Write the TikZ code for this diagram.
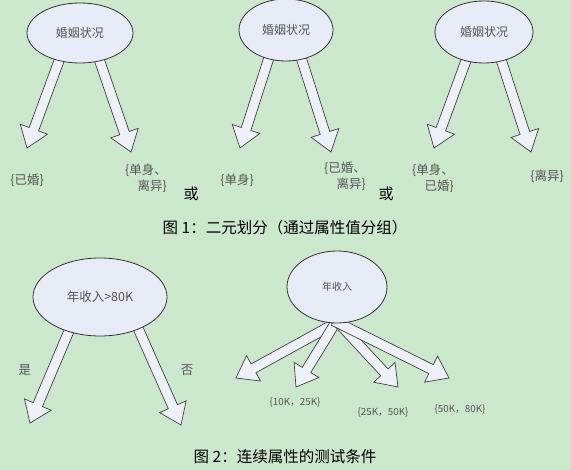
\documentclass[tikz,border=0pt]{standalone}
\usepackage{fontspec}
\setmainfont{Noto Sans CJK SC}
\usepackage{tikz}
\usepackage{xcolor}
\usetikzlibrary{calc, shapes.geometric, positioning}

\definecolor{bggreen}{RGB}{204,232,204}
\definecolor{attrfill}{RGB}{230,235,245}
\definecolor{arrowfill}{RGB}{238,240,248}
\definecolor{labelgray}{RGB}{85,85,85}

\pgfdeclarelayer{back}
\pgfdeclarelayer{mid}
\pgfsetlayers{back,mid,main}

\tikzset{
  attr/.style={ellipse, draw=black!80, line width=0.8pt, fill=attrfill,
    text=labelgray, inner sep=0pt},
  val/.style={text=labelgray, font=\fontsize{12.5}{16}\selectfont, align=center, inner sep=0pt},
  ival/.style={text=labelgray, font=\fontsize{9.8}{11}\selectfont, inner sep=0pt},
  orword/.style={font=\fontsize{15}{17}\selectfont, inner sep=0pt},
  caption/.style={font=\fontsize{15.5}{18}\selectfont, inner sep=0pt},
  fat/.style={draw=black!75, line width=0.7pt, fill=arrowfill, line join=miter}
}

% hollow block arrow from #1 to #2
\newcommand{\fatarrow}[2]{%
  \path ($(#1)!-6pt!(#2)$) coordinate (fa-s)
        ($(#2)!20pt!(#1)$) coordinate (fa-b);
  \filldraw[fat]
    ($(fa-s)!5pt!90:(#2)$) -- ($(fa-b)!5pt!90:(#2)$)
    -- ($(fa-b)!14.5pt!90:(#2)$) -- (#2)
    -- ($(fa-b)!14.5pt!-90:(#2)$) -- ($(fa-b)!5pt!-90:(#2)$)
    -- ($(fa-s)!5pt!-90:(#2)$) -- cycle;
}

\begin{document}
\begin{tikzpicture}[x=1pt, y=-1pt]
  \begin{pgfonlayer}{back}
    \fill[bggreen] (0,0) rectangle (571,470);
  \end{pgfonlayer}
  \useasboundingbox (0,0) rectangle (571,470);

  % binary splits
  \node[attr, minimum width=106pt, minimum height=60pt,
        font=\fontsize{12}{14}\selectfont] (m1) at (80,33) {婚姻状况};
  \node[attr, minimum width=94pt, minimum height=62pt,
        font=\fontsize{12}{14}\selectfont] (m2) at (286,30) {婚姻状况};
  \node[attr, minimum width=98pt, minimum height=62pt,
        font=\fontsize{12}{14}\selectfont] (m3) at (484,32) {婚姻状况};

  \coordinate (t11) at (27,148);
  \coordinate (t12) at (131,152);
  \coordinate (t21) at (240,148);
  \coordinate (t22) at (331,152);
  \coordinate (t31) at (434,148);
  \coordinate (t32) at (531,152);

  \node[val] (v11) at (27,180) {\{已婚\}};
  \node[val, align=right] (v12) at (146,178) {\{单身、\\离异\}};
  \node[orword] (or1) at (191,194) {或};
  \node[val] (v21) at (237,180) {\{单身\}};
  \node[val, align=right] (v22) at (345,176) {\{已婚、\\离异\}};
  \node[orword] (or2) at (386,194) {或};
  \node[val, align=right] (v31) at (433,178) {\{单身、\\已婚\}};
  \node[val] (v32) at (547,176) {\{离异\}};

  \node[caption] (cap1) at (285,228) {图 1：二元划分（通过属性值分组）};

  % continuous attribute
  \node[attr, minimum width=134pt, minimum height=78pt,
        font=\fontsize{12.5}{14}\selectfont] (inc1) at (100,297) {年收入>80K};
  \node[attr, minimum width=100pt, minimum height=72pt,
        font=\fontsize{10}{12}\selectfont] (inc2) at (337,287) {年收入};

  \coordinate (y1) at (30,423);
  \coordinate (n1) at (181,425);
  \coordinate (r1) at (236,378);
  \coordinate (r2) at (296,387);
  \coordinate (r3) at (398,387);
  \coordinate (r4) at (449,378);

  \node[val] (yes) at (25,370) {是};
  \node[val] (no) at (187,370) {否};
  \node[ival] (i1) at (295,402) {\{10K，25K\}};
  \node[ival] (i2) at (383,412) {\{25K，50K\}};
  \node[ival] (i3) at (460,409) {\{50K，80K\}};

  \node[caption] (cap2) at (285,457) {图 2：连续属性的测试条件};

  \begin{pgfonlayer}{mid}
    \fatarrow{m1.-127}{t11}
    \fatarrow{m1.-55}{t12}
    \fatarrow{m2.-121}{t21}
    \fatarrow{m2.-62}{t22}
    \fatarrow{m3.-122}{t31}
    \fatarrow{m3.-59}{t32}
    \fatarrow{inc1.-132}{y1}
    \fatarrow{inc1.-40}{n1}
    \fatarrow{inc2.-93}{r1}
    \fatarrow{inc2.-93}{r2}
    \fatarrow{inc2.-87}{r3}
    \fatarrow{inc2.-87}{r4}
  \end{pgfonlayer}
\end{tikzpicture}
\end{document}
